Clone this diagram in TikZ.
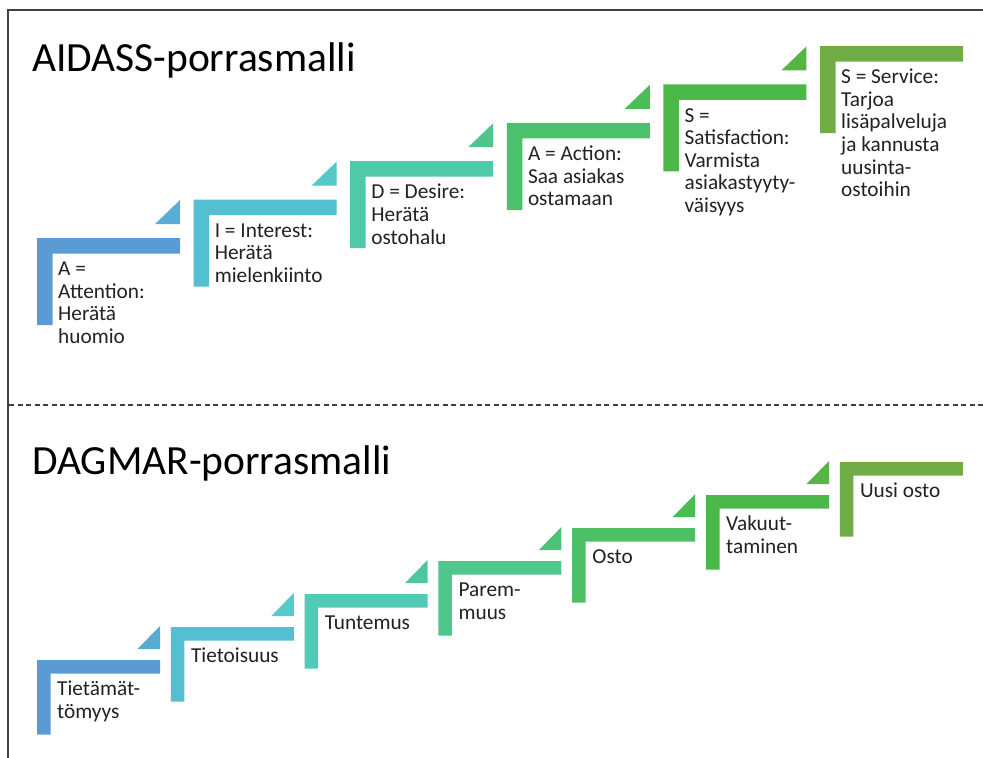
\documentclass[tikz,border=0pt]{standalone}
\usepackage{fontspec}
\setmainfont{Carlito}
\begin{document}
% colours of the step shapes, blue to green
\definecolor{sA1}{HTML}{5B9BD5}\definecolor{tA1}{HTML}{59ADD4}
\definecolor{sA2}{HTML}{52C0D0}\definecolor{tA2}{HTML}{54C9C8}
\definecolor{sA3}{HTML}{4FC9A8}\definecolor{tA3}{HTML}{4DC68D}
\definecolor{sA4}{HTML}{4BC16D}\definecolor{tA4}{HTML}{4BBD58}
\definecolor{sA5}{HTML}{4CB848}\definecolor{tA5}{HTML}{56B447}
\definecolor{sA6}{HTML}{70AD47}
\definecolor{sD1}{HTML}{5B9BD5}\definecolor{tD1}{HTML}{58ACD2}
\definecolor{sD2}{HTML}{54BFD1}\definecolor{tD2}{HTML}{55CBCC}
\definecolor{sD3}{HTML}{52CBB6}\definecolor{tD3}{HTML}{4EC79A}
\definecolor{sD4}{HTML}{4EC68C}\definecolor{tD4}{HTML}{4CC278}
\definecolor{sD5}{HTML}{4BC064}\definecolor{tD5}{HTML}{4BBC52}
\definecolor{sD6}{HTML}{4CB84A}\definecolor{tD6}{HTML}{58B448}
\definecolor{sD7}{HTML}{70AD47}
\definecolor{ink}{HTML}{222222}
\definecolor{rule}{HTML}{404040}

% one L-shaped step: #1 left, #2 top, #3 colour, #4 node name, #5 label
% (the label's first baseline sits 22pt below the lower edge of the bar)
\newcommand\stairstep[5]{%
  \fill[#3] (#1,#2) -- ++(\stepW,0) -- ++(0,\stepT) -- ({#1+\stepT},{#2+\stepT})
     -- ({#1+\stepT},{#2+\stepH}) -- (#1,{#2+\stepH}) -- cycle;
  \node[steptext] (#4) at ({#1+\stepX},{#2+\stepT+22-18}) {\rule{0pt}{18pt}#5};
}
% small triangle above the right end of a step: #1 left, #2 top, #3 colour
\newcommand\stairtri[3]{%
  \fill[#3] ({#1+\stepW},{#2-\stepG}) -- ++(-\triW,0) -- ++(\triW,-\triH) -- cycle;
}

\begin{tikzpicture}[x=1pt,y=-1pt,
  steptext/.style={anchor=north west,inner sep=0pt,align=left,text=ink,
    font=\fontsize{21.3}{22.6}\selectfont},
  heading/.style={anchor=base west,inner sep=0pt,text=black,
    font=\fontsize{41.5}{48}\selectfont},
  frame/.style={draw=rule,line width=1.5pt},
  divider/.style={draw=rule,line width=1.2pt,dash pattern=on 5pt off 3.5pt}]
\useasboundingbox (0,0) rectangle (983,758);
\fill[white] (0,0) rectangle (983,758);

% frame and divider
\draw[frame] (8,758) -- (8,10) -- (983,10);
\draw[divider] (9,405) -- (983,405);

% ---------- AIDASS ----------
\node[heading] (taidass) at (32,71) {AIDASS-porrasmalli};
\def\stepW{143}\def\stepH{87}\def\stepT{15.5}\def\stepX{21}
\def\stepG{14}\def\triW{25}\def\triH{24}
\stairtri{37}{238}{tA1}
\stairtri{193.6}{199.6}{tA2}
\stairtri{350.2}{161.2}{tA3}
\stairtri{506.8}{122.8}{tA4}
\stairtri{663.4}{84.4}{tA5}
\stairstep{37}{238}{sA1}{a1}{A =\\Attention:\\Herätä\\huomio}
\stairstep{193.6}{199.6}{sA2}{a2}{I = Interest:\\Herätä\\mielenkiinto}
\stairstep{350.2}{161.2}{sA3}{a3}{D = Desire:\\Herätä\\ostohalu}
\stairstep{506.8}{122.8}{sA4}{a4}{A = Action:\\Saa asiakas\\ostamaan}
\stairstep{663.4}{84.4}{sA5}{a5}{S =\\Satisfaction:\\Varmista\\asiakastyyty-\\väisyys}
\stairstep{820}{46}{sA6}{a6}{S = Service:\\Tarjoa\\lisäpalveluja\\ja kannusta\\uusinta-\\ostoihin}

% ---------- DAGMAR ----------
\node[heading] (tdagmar) at (32,474) {DAGMAR-porrasmalli};
\def\stepW{123}\def\stepH{74.5}\def\stepT{13.5}\def\stepX{20}
\def\stepG{11}\def\triW{22.5}\def\triH{23}
\stairtri{37}{660}{tD1}
\stairtri{170.8}{627}{tD2}
\stairtri{304.6}{594}{tD3}
\stairtri{438.4}{561}{tD4}
\stairtri{572.2}{528}{tD5}
\stairtri{706}{495}{tD6}
\stairstep{37}{660}{sD1}{d1}{Tietämät-\\tömyys}
\stairstep{170.8}{627}{sD2}{d2}{Tietoisuus}
\stairstep{304.6}{594}{sD3}{d3}{Tuntemus}
\stairstep{438.4}{561}{sD4}{d4}{Parem-\\muus}
\stairstep{572.2}{528}{sD5}{d5}{Osto}
\stairstep{706}{495}{sD6}{d6}{Vakuut-\\taminen}
\stairstep{839.8}{462}{sD7}{d7}{Uusi osto}
\end{tikzpicture}
\end{document}
